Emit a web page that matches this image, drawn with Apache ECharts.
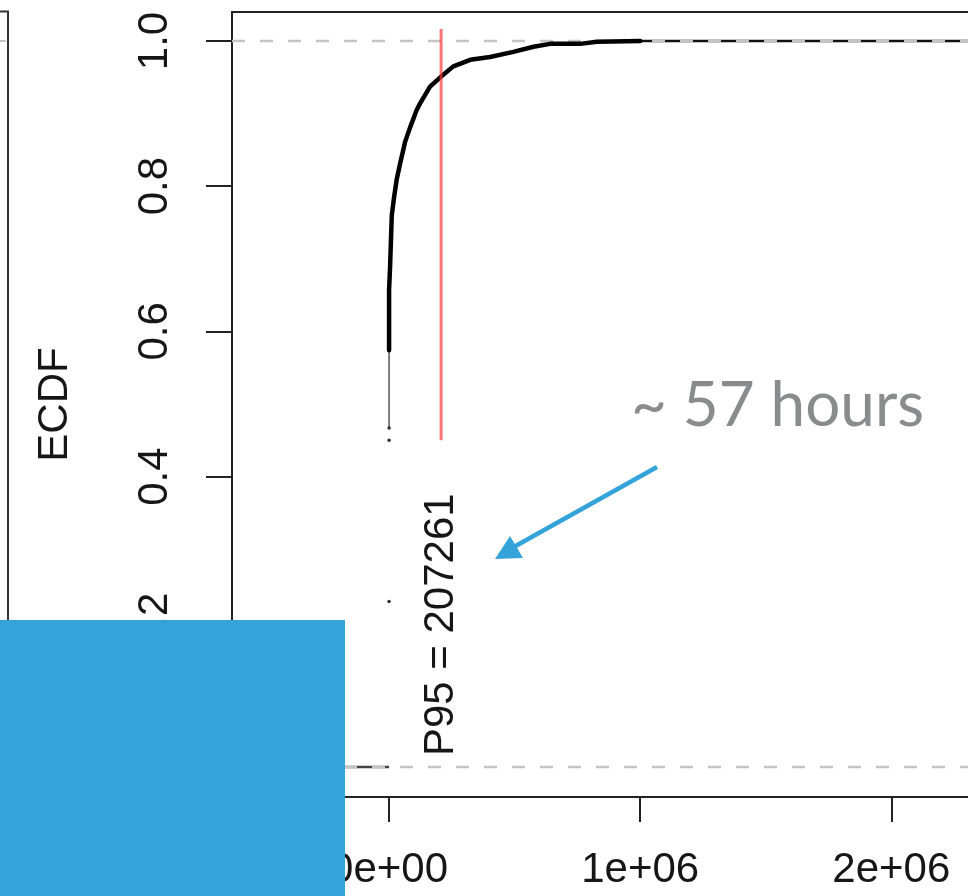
<!DOCTYPE html>
<html>
<head>
<meta charset="utf-8">
<script src="https://cdn.jsdelivr.net/npm/echarts@6/dist/echarts.min.js"></script>
<style>
  html, body { margin: 0; padding: 0; background: #fff; }
  #chart { width: 968px; height: 896px; }
</style>
</head>
<body>
<div id="chart"></div>
<script>
// Axis ticks and their printed labels
const xTickValues = [0, 1000000, 2000000];
const xTickLabels = ['0e+00', '1e+06', '2e+06'];
const yTickValues = [0, 0.2, 0.4, 0.6, 0.8, 1.0];
const yTickLabels = ['0.0', '0.2', '0.4', '0.6', '0.8', '1.0'];

// Empirical CDF of durations (seconds): dense part of the step function
const ecdfX = [0, 0, 4000, 10800, 10800, 20000, 30700, 43800, 63700, 83700, 110000,
               123500, 163000, 207261, 256000, 323000, 402000, 495000, 575000,
               641000, 761000, 827000, 1000000];
const ecdfY = [0.574, 0.657, 0.689, 0.689, 0.760, 0.785, 0.810, 0.831, 0.861, 0.881, 0.905,
               0.914, 0.937, 0.951, 0.965, 0.974, 0.978, 0.985, 0.992,
               0.996, 0.996, 0.999, 1.0];
// Sparse knots near zero
const sparseX = [0, 0, 0];
const sparseY = [0.228, 0.450, 0.467];
const thinX = [0, 0];
const thinY = [0.467, 0.574];
// Flat parts of the step function
const lowTailX = [-625500, 0];
const lowTailY = [0, 0];
const highTailX = [1000000, 2600000];
const highTailY = [1, 1];

// 95th percentile marker
const p95 = 207261;
const p95LineY = [0.45, 1.0165];
const p95LabelY = 0.196;

const xRange = [-625500, 2600000];
const yRange = [-0.0413, 1.0399];

const zip = (xs, ys) => xs.map((x, i) => [x, ys[i]]);
const rFont = 'Liberation Sans';
const ink = '#161616';

const chart = echarts.init(document.getElementById('chart'));
chart.setOption({
  animation: false,
  backgroundColor: '#fff',
  grid: {
    left: 232, top: 12, width: 810, height: 785,
    outerBoundsMode: 'none',
    containLabel: false,
    show: true, borderColor: '#222', borderWidth: 2
  },
  xAxis: {
    type: 'value',
    min: xRange[0], max: xRange[1],
    axisLine: { show: true, onZero: false, lineStyle: { color: '#222', width: 2 } },
    axisTick: { show: true, length: 25, customValues: xTickValues, lineStyle: { color: '#222', width: 2 } },
    axisLabel: {
      customValues: xTickValues,
      formatter: v => xTickLabels[xTickValues.indexOf(v)],
      fontFamily: rFont, fontSize: 42, color: ink, margin: 52
    },
    splitLine: { show: false }
  },
  yAxis: {
    type: 'value',
    min: yRange[0], max: yRange[1],
    name: 'ECDF',
    nameLocation: 'middle',
    nameRotate: 90,
    nameGap: 156,
    nameTextStyle: { fontFamily: rFont, fontSize: 42, color: ink },
    axisLine: { show: true, onZero: false, lineStyle: { color: '#222', width: 2 } },
    axisTick: { show: true, length: 26, customValues: yTickValues, lineStyle: { color: '#222', width: 2 } },
    axisLabel: {
      customValues: yTickValues,
      rotate: 90,
      formatter: v => yTickLabels[yTickValues.indexOf(Math.round(v * 10) / 10)],
      fontFamily: rFont, fontSize: 42, color: ink, margin: 56
    },
    splitLine: { show: false }
  },
  series: [
    {
      type: 'line', name: 'upper flat', data: zip(highTailX, highTailY),
      symbol: 'none', lineStyle: { color: '#111', width: 2.5 }, z: 2
    },
    {
      type: 'line', name: 'lower flat', data: zip(lowTailX, lowTailY),
      symbol: 'none', lineStyle: { color: '#444', width: 2.5 }, z: 2
    },
    {
      type: 'line', name: 'h = 1', data: [[xRange[0], 1], [xRange[1], 1]],
      symbol: 'none', lineStyle: { color: '#c4c4c4', width: 2.5, type: [13, 15] }, z: 3
    },
    {
      type: 'line', name: 'h = 0', data: [[xRange[0], 0], [xRange[1], 0]],
      symbol: 'none', lineStyle: { color: '#c4c4c4', width: 2.5, type: [13, 15] }, z: 3
    },
    {
      type: 'line', name: 'ecdf thin', data: zip(thinX, thinY),
      symbol: 'none', lineStyle: { color: '#555', width: 1.5 }, z: 4
    },
    {
      type: 'line', name: 'ecdf', data: zip(ecdfX, ecdfY),
      symbol: 'none', lineStyle: { color: '#000', width: 4.5, join: 'round', cap: 'round' }, z: 5
    },
    {
      type: 'scatter', name: 'knots', data: zip(sparseX, sparseY),
      symbolSize: 3.5, itemStyle: { color: '#333', opacity: 1 }, z: 5
    },
    {
      type: 'line', name: 'P95', data: p95LineY.map(y => [p95, y]),
      symbol: 'none', lineStyle: { color: 'rgba(255, 60, 60, 0.7)', width: 3 }, z: 6
    },
    {
      type: 'scatter', name: 'P95 label', data: [[p95, p95LabelY]],
      symbolSize: 0, z: 6,
      itemStyle: { opacity: 1 },
      label: {
        show: true, position: 'inside', rotate: 90,
        formatter: 'P95 = ' + p95,
        fontFamily: rFont, fontSize: 42, color: ink, opacity: 1
      }
    }
  ],
  graphic: [
    // edge of the neighbouring panel
    { type: 'polyline', z: 50, shape: { points: [[0, 11.5], [8, 11.5], [8, 640]] },
      style: { stroke: '#333', lineWidth: 2, fill: null } },
    { type: 'line', z: 50, shape: { x1: 0, y1: 41, x2: 6, y2: 41 },
      style: { stroke: '#c4c4c4', lineWidth: 2 } },
    // callout
    { type: 'text', z: 60, x: 631, y: 406,
      style: { text: '~ 57 hours', font: '62px Lato', fill: '#898c8c', verticalAlign: 'middle' } },
    { type: 'line', z: 60, shape: { x1: 657, y1: 467, x2: 512, y2: 548 },
      style: { stroke: '#33a3d9', lineWidth: 4.5 } },
    { type: 'polygon', z: 60, shape: { points: [[495, 559], [510, 536], [523, 558]] },
      style: { fill: '#33a3d9' } },
    { type: 'rect', z: 100, shape: { x: 0, y: 620, width: 345, height: 276 },
      style: { fill: '#33a3d9' } }
  ]
});
</script>
</body>
</html>
